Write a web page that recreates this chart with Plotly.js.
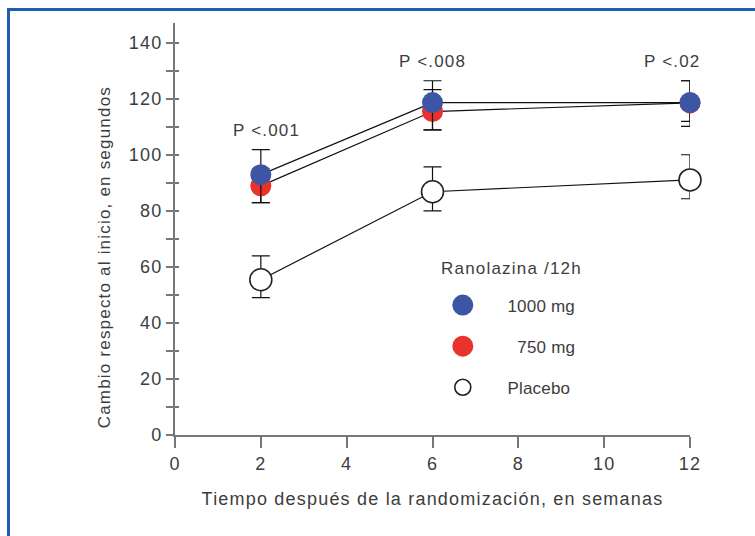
<!DOCTYPE html>
<html><head><meta charset="utf-8">
<script src="https://cdn.plot.ly/plotly-3.0.1.min.js"></script>
<style>
html,body{margin:0;padding:0;background:#fff;overflow:hidden}
#chart{width:755px;height:536px;position:absolute;left:0;top:0}
svg text{letter-spacing:1.2px}
#chart text.legendtext{letter-spacing:0.2px}
#frame{position:absolute;left:7px;top:8px;width:820px;height:620px;border:3px solid #1c5fb2;pointer-events:none;box-sizing:border-box}
</style></head><body>
<div id="chart"></div><div id="frame"></div>
<script>
// Data
const weeks = [2, 6, 12];
const mg1000 = [92.9, 118.6, 118.6];
const mg1000Up = [8.9, 7.8, 7.8];
const mg1000Down = [10.0, 9.7, 6.7];
const mg750 = [88.9, 115.4, 118.5];
const mg750Up = [6.0, 7.8, 7.9];
const mg750Down = [6.0, 6.5, 8.4];
const placebo = [55.4, 86.8, 91.0];
const placeboUp = [8.5, 8.9, 9.0];
const placeboDown = [6.4, 6.8, 6.7];
const pLabels = ['P <.001', 'P <.008', 'P <.02'];
const seriesNames = ['1000 mg', '750 mg', 'Placebo'];
const legendTitle = 'Ranolazina /12h';
const xTickVals = [0, 2, 4, 6, 8, 10, 12];
const yTickVals = [0, 20, 40, 60, 80, 100, 120, 140];
const xTitle = 'Tiempo después de la randomización, en semanas';
const yTitle = 'Cambio respecto al inicio, en segundos';

const FONT = 'Liberation Sans, Arial, sans-serif';
const TXT = '#3d3d3d';
const BLUE = '#3c55a5';
const RED = '#e8322b';
const NB = '\u00a0';
const err = (up, down) => ({type: 'data', symmetric: false, array: up, arrayminus: down,
  color: '#111', thickness: 1.2, width: 9});

const traces = [
  {x: weeks, y: placebo, mode: 'lines+markers', showlegend: false, cliponaxis: false,
   line: {color: '#111', width: 1.2},
   marker: {size: 22, color: '#fff', line: {color: '#222', width: 1.6}},
   error_y: err(placeboUp, placeboDown)},
  {x: weeks, y: mg750, mode: 'lines+markers', showlegend: false, cliponaxis: false,
   line: {color: '#111', width: 1.2},
   marker: {size: 21, color: RED},
   error_y: err(mg750Up, mg750Down)},
  {x: weeks, y: mg1000, mode: 'lines+markers', showlegend: false, cliponaxis: false,
   line: {color: '#111', width: 1.2},
   marker: {size: 21, color: BLUE},
   error_y: err(mg1000Up, mg1000Down)},
  // legend entries
  {x: [null], y: [null], mode: 'markers', name: NB.repeat(5) + seriesNames[0], legendgroup: 'a',
   marker: {size: 16, color: BLUE, line: {color: BLUE, width: 5}}},
  {x: [null], y: [null], mode: 'markers', name: NB.repeat(7) + seriesNames[1], legendgroup: 'b',
   marker: {size: 16, color: RED, line: {color: RED, width: 5}}},
  {x: [null], y: [null], mode: 'markers', name: NB.repeat(5) + seriesNames[2], legendgroup: 'c',
   marker: {size: 16, color: '#fff', line: {color: '#222', width: 1.6}}},
  // second y axis for crossing ticks
  {x: [null], y: [null], yaxis: 'y2', showlegend: false, hoverinfo: 'skip'}
];

const pShift = [6, 0, -18];
const pYShift = [8, 8, 8];
const annotations = pLabels.map((t, i) => ({
  x: weeks[i], y: mg1000[i] + mg1000Up[i], xref: 'x', yref: 'y',
  text: t, showarrow: false, yanchor: 'bottom', xshift: pShift[i], yshift: pYShift[i],
  font: {family: FONT, size: 17, color: TXT}
}));
annotations.push({xref: 'paper', yref: 'paper', x: 0, y: 0.43, xshift: -82, textangle: -90,
  text: yTitle, showarrow: false, font: {family: FONT, size: 17, color: TXT}});
annotations.push({xref: 'paper', yref: 'paper', x: 0.653, y: 0.405, yanchor: 'middle',
  text: legendTitle, showarrow: false, font: {family: FONT, size: 17, color: TXT}});

const axisCommon = {showgrid: false, zeroline: false, showline: true, linecolor: '#777', linewidth: 2,
  tickcolor: '#777', tickwidth: 2, tickfont: {family: FONT, size: 18, color: TXT}};

const layout = {
  width: 755, height: 536,
  margin: {l: 175, r: 65, t: 23, b: 101},
  paper_bgcolor: '#fff', plot_bgcolor: '#fff',
  showlegend: true,
  xaxis: Object.assign({}, axisCommon, {range: [0, 12], tickvals: xTickVals, ticks: 'outside', ticklen: 11,
    title: {text: xTitle, font: {family: FONT, size: 18, color: TXT}, standoff: 20}}),
  yaxis: Object.assign({}, axisCommon, {range: [0, 147], tickvals: yTickVals, ticks: 'outside', ticklen: 7,
    minor: {dtick: 10, tick0: 10, ticks: 'outside', ticklen: 7, tickcolor: '#777', tickwidth: 2}}),
  yaxis2: {overlaying: 'y', range: [0, 147], side: 'left', showline: false, showgrid: false, zeroline: false,
    showticklabels: false, tickvals: [10,20,30,40,50,60,70,80,90,100,110,120,130,140], ticks: 'inside', ticklen: 4,
    tickcolor: '#777', tickwidth: 2},
  legend: {x: 0.52, y: 0.358, xanchor: 'left', yanchor: 'top', bgcolor: 'rgba(0,0,0,0)',
    font: {family: FONT, size: 17, color: TXT}, tracegroupgap: 16, itemwidth: 30},
  annotations: annotations
};

Plotly.newPlot('chart', traces, layout, {staticPlot: true, displayModeBar: false});
</script>
</body></html>
